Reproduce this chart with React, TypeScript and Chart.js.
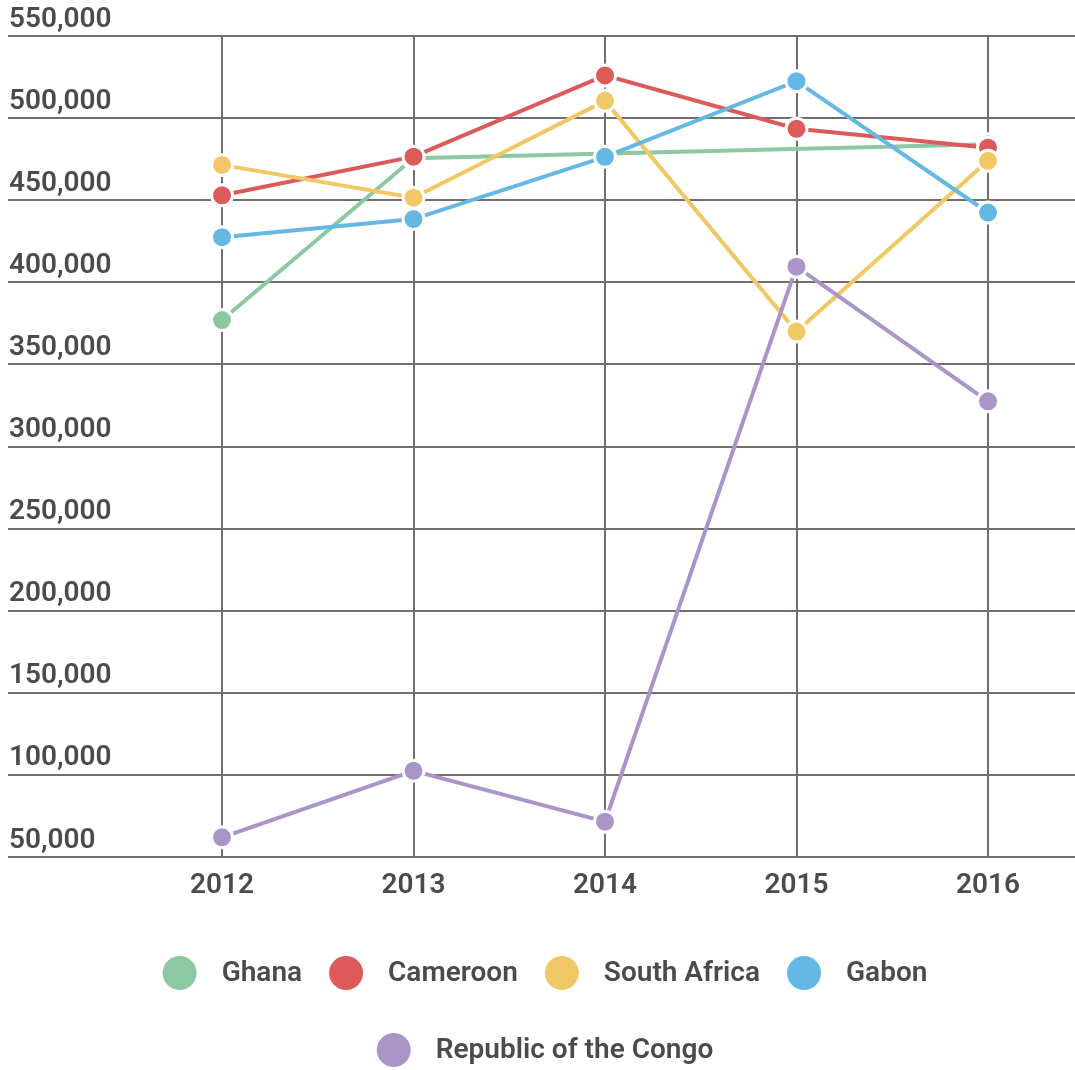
import React, { useEffect, useRef } from 'react';
import { Chart, registerables } from 'chart.js';

Chart.register(...registerables);

const years = [2012, 2013, 2014, 2015, 2016];
const seriesNames = ['Ghana', 'Cameroon', 'South Africa', 'Gabon', 'Republic of the Congo'];
const ghana = [377000, 475500, null, null, 484000];
const cameroon = [453000, 476500, 526000, 493500, 482000];
const southAfrica = [471500, 451500, 510500, 370000, 474000];
const gabon = [427500, 438500, 476400, 522500, 442500];
const congo = [62000, 102500, 71500, 409500, 327500];
const seriesColors = ['#8cc8a2', '#dc5a5a', '#f0c966', '#64b8e3', '#ab94c7'];

const yMin = 50000;
const yMax = 550000;
const yStep = 50000;

const TEXT_COLOR = '#4b4b4b';
const GRID_COLOR = '#736d6d';
const FONT_FAMILY = 'Roboto, "Noto Sans", sans-serif';
const FONT_WEIGHT = '600';

const legendPlugin = {
  id: 'bottomLegend',
  afterDraw(chart: any) {
    const ctx = chart.ctx as CanvasRenderingContext2D;
    ctx.save();
    ctx.font = `${FONT_WEIGHT} 28px ${FONT_FAMILY}`;
    ctx.textBaseline = 'middle';
    ctx.textAlign = 'left';
    const r = 17;
    const gapText = 25;
    const gapItem = 27;
    const maxW = 900;
    const items = chart.data.datasets.map((ds: any) => {
      const tw = ctx.measureText(ds.label).width;
      return { label: ds.label, color: ds.backgroundColor, tw, w: 2 * r + gapText + tw };
    });
    const rows: any[][] = [];
    let cur: any[] = [];
    let curW = 0;
    items.forEach((it: any) => {
      const add = cur.length ? gapItem + it.w : it.w;
      if (cur.length && curW + add > maxW) {
        rows.push(cur);
        cur = [it];
        curW = it.w;
      } else {
        cur.push(it);
        curW += add;
      }
    });
    if (cur.length) rows.push(cur);
    const centerX = 545;
    const rowYs = [973, 1050];
    rows.forEach((row, ri) => {
      const total = row.reduce((s, it, i) => s + it.w + (i ? gapItem : 0), 0);
      let x = centerX - total / 2;
      const y = rowYs[ri] ?? 973 + ri * 77;
      row.forEach((it) => {
        ctx.beginPath();
        ctx.fillStyle = it.color;
        ctx.arc(x + r, y, r, 0, Math.PI * 2);
        ctx.fill();
        ctx.fillStyle = TEXT_COLOR;
        ctx.fillText(it.label, x + 2 * r + gapText, y + 1);
        x += it.w + gapItem;
      });
    });
    ctx.restore();
  },
};

export default function App() {
  const canvasRef = useRef<HTMLCanvasElement | null>(null);

  useEffect(() => {
    const canvas = canvasRef.current;
    if (!canvas) return;
    const allSeries = [ghana, cameroon, southAfrica, gabon, congo];
    const tickFont = { family: FONT_FAMILY, size: 28, weight: FONT_WEIGHT as any };
    const chart = new Chart(canvas, {
      type: 'line',
      data: {
        datasets: allSeries.map((vals, i) => ({
          label: seriesNames[i],
          data: years.map((yr, j) => ({ x: yr, y: vals[j] })),
          borderColor: seriesColors[i],
          backgroundColor: seriesColors[i],
          pointBackgroundColor: seriesColors[i],
          pointBorderColor: '#ffffff',
          pointBorderWidth: 3,
          pointRadius: 10.5,
          borderWidth: 4,
          tension: 0,
          fill: false,
          spanGaps: true,
          order: allSeries.length - 1 - i,
        })),
      },
      options: {
        animation: false,
        responsive: true,
        maintainAspectRatio: false,
        layout: { autoPadding: false, padding: { left: 8, top: 36, right: 0, bottom: 167 } },
        plugins: {
          legend: { display: false },
          tooltip: { enabled: false },
        },
        scales: {
          x: {
            type: 'linear',
            min: 2010.8825,
            max: 2016.4543,
            afterBuildTicks: (scale: any) => {
              scale.ticks = years.map((v) => ({ value: v }));
            },
            afterFit: (scale: any) => {
              scale.paddingLeft = 0;
              scale.paddingRight = 0;
              scale.height = 46;
            },
            ticks: {
              callback: (v: any) => String(v),
              font: tickFont,
              color: TEXT_COLOR,
              padding: 12,
              maxRotation: 0,
            },
            grid: { color: GRID_COLOR, lineWidth: 2, drawTicks: false },
            border: { display: false },
          },
          y: {
            min: yMin,
            max: yMax,
            afterFit: (scale: any) => {
              scale.paddingTop = 0;
              scale.paddingBottom = 0;
              scale.width = 0;
            },
            ticks: {
              stepSize: yStep,
              mirror: true,
              padding: 1,
              labelOffset: -16.5,
              callback: (v: any) => Number(v).toLocaleString('en-US'),
              font: tickFont,
              color: TEXT_COLOR,
            },
            grid: { color: GRID_COLOR, lineWidth: 2, drawTicks: false },
            border: { display: false },
          },
        },
      },
      plugins: [legendPlugin],
    });
    return () => chart.destroy();
  }, []);

  return (
    <div style={{ position: 'fixed', left: 0, top: 0, width: '1075px', height: '1070px', background: '#ffffff' }}>
      <canvas ref={canvasRef} />
    </div>
  );
}
